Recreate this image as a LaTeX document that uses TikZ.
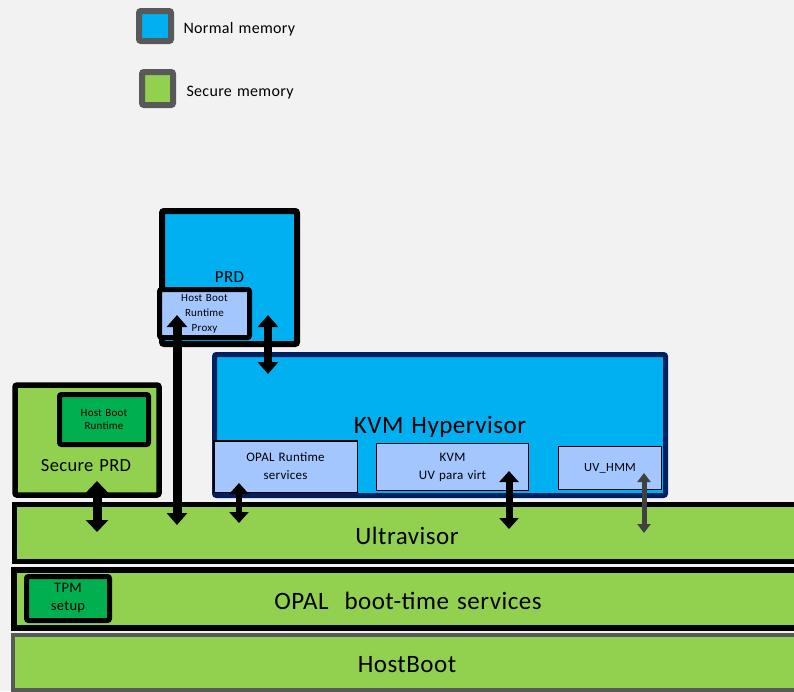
\documentclass[tikz,border=0pt]{standalone}
\usepackage{fontspec}
\setmainfont{Carlito}[LetterSpace=2,WordSpace=1.3]
\usetikzlibrary{arrows.meta}
\definecolor{bggrey}{RGB}{242,242,242}
\definecolor{normblue}{RGB}{0,176,240}
\definecolor{paleblue}{RGB}{164,198,255}
\definecolor{navyblue}{RGB}{0,32,96}
\definecolor{securegreen}{RGB}{146,208,80}
\definecolor{darkgreen}{RGB}{0,176,80}
\definecolor{legendgrey}{RGB}{89,89,89}
\definecolor{arrowgrey}{RGB}{64,64,64}

\begin{document}
\begin{tikzpicture}[
  x=1pt, y=-1pt,
  box/.style={draw=black, line width=5pt, rounded corners=2pt, inner sep=0pt,
              align=center},
  normbox/.style={box, fill=normblue},
  securebox/.style={box, fill=securegreen},
  tpmbox/.style={box, fill=darkgreen, font=\fontsize{14.5}{18}\selectfont},
  servicebox/.style={box, fill=paleblue, line width=1.5pt, rounded corners=0pt,
                     font=\fontsize{13}{18}\selectfont},
  layerbox/.style={securebox, line width=6pt, rounded corners=0pt,
                   font=\fontsize{25}{30}\selectfont},
  legendbox/.style={box, draw=legendgrey, line width=6pt},
  legendtext/.style={anchor=base west, font=\fontsize{16}{20}\selectfont},
  bothways/.style={line width=8pt,
                   {Triangle[width=20pt,length=12pt]}-{Triangle[width=20pt,length=12pt]}}
]
  \fill[bggrey] (0,0) rectangle (794,691);
  \useasboundingbox (0,0) rectangle (794,691);
  \clip (0,0) rectangle (794,691);

  % legend
  \node[legendbox, fill=normblue, minimum width=32, minimum height=30] (normkey) at (155,26) {};
  \node[legendtext] (normtext) at (180,33) {Normal memory};
  \node[legendbox, fill=securegreen, minimum width=31, minimum height=33] (securekey) at (157.5,88.5) {};
  \node[legendtext] (securetext) at (183,96.5) {Secure memory};

  % firmware layers
  \node[layerbox, line width=5pt, minimum width=785, minimum height=56.5] (uv) at (407,533) {};
  \node (uvtext) at (407,536) [font=\fontsize{25}{30}\selectfont] {Ultravisor};
  \node[layerbox, minimum width=786, minimum height=58] (opal) at (407,599) {};
  \node (opaltext) at (408,600.5) [font=\fontsize{25}{30}\selectfont] {OPAL\ \ boot-time services};
  \node[layerbox, draw=legendgrey, line width=4pt, minimum width=787, minimum height=54.5] (hb) at (406.5,662.5) {};
  \node (hbtext) at (407,664.5) [font=\fontsize{25}{30}\selectfont] {HostBoot};
  \node[tpmbox, minimum width=83, minimum height=44] (tpm) at (68,598.5) {TPM\\setup};

  % secure PRD
  \node[securebox, line width=5.5pt, minimum width=144, minimum height=110] (sprd) at (87,440) {};
  \node[font=\fontsize{18.5}{22}\selectfont] (sprdtext) at (86,466) {Secure PRD};
  \node[box, fill=darkgreen, minimum width=89, minimum height=50,
        font=\fontsize{11}{13.5}\selectfont] (shbrt) at (104,419.5) {Host Boot\\Runtime};

  % PRD
  \node[normbox, line width=6pt, minimum width=135, minimum height=133,
        font=\fontsize{17}{20}\selectfont] (prd) at (229.5,277.5) {PRD};
  \node[box, fill=paleblue, minimum width=90, minimum height=48,
        font=\fontsize{11}{15}\selectfont] (proxy) at (204.5,313.5) {Host Boot\\Runtime\\Proxy};

  % KVM hypervisor
  \node[normbox, draw=navyblue, minimum width=451, minimum height=141] (kvm) at (440,425) {};
  \node (kvmtext) at (440,427) [font=\fontsize{25}{30}\selectfont] {KVM Hypervisor};
  \node[servicebox, minimum width=143.5, minimum height=51.5] (opalrt) at (285.5,466.5) {OPAL Runtime\\services};
  \node[servicebox, minimum width=152, minimum height=47] (uvvirt) at (452.5,467) {KVM\\UV para virt};
  \node[servicebox, minimum width=103, minimum height=43,
        font=\fontsize{12.5}{15}\selectfont] (uvhmm) at (610,468) {UV\_HMM};

  % connectors
  \coordinate (sprdend) at (97,481);
  \coordinate (sprduv) at (97,532);
  \coordinate (proxyend) at (177,315);
  \coordinate (proxyuv) at (177,525);
  \coordinate (prdend) at (268,315);
  \coordinate (prdkvm) at (268,374);
  \coordinate (opalrtend) at (239,483);
  \coordinate (opalrtuv) at (239,523);
  \coordinate (uvvirtend) at (509,471);
  \coordinate (uvvirtuv) at (509,529);
  \coordinate (uvhmmend) at (644,473);
  \coordinate (uvhmmuv) at (644,533);

  \draw[bothways, line width=9pt,
        {Triangle[width=22pt,length=12pt]}-{Triangle[width=22pt,length=12pt]}] (sprdend) -- (sprduv);
  \draw[bothways, line width=9pt] (proxyend) -- (proxyuv);
  \draw[bothways] (prdend) -- (prdkvm);
  \draw[bothways, line width=6pt,
        {Triangle[width=19pt,length=11pt]}-{Triangle[width=19pt,length=11pt]}] (opalrtend) -- (opalrtuv);
  \draw[bothways, line width=7pt,
        {Triangle[width=19pt,length=11pt]}-{Triangle[width=19pt,length=11pt]}] (uvvirtend) -- (uvvirtuv);
  \draw[arrowgrey, line width=5pt,
        {Triangle[width=13pt,length=9pt]}-{Triangle[width=13pt,length=9pt]}] (uvhmmend) -- (uvhmmuv);
\end{tikzpicture}
\end{document}
